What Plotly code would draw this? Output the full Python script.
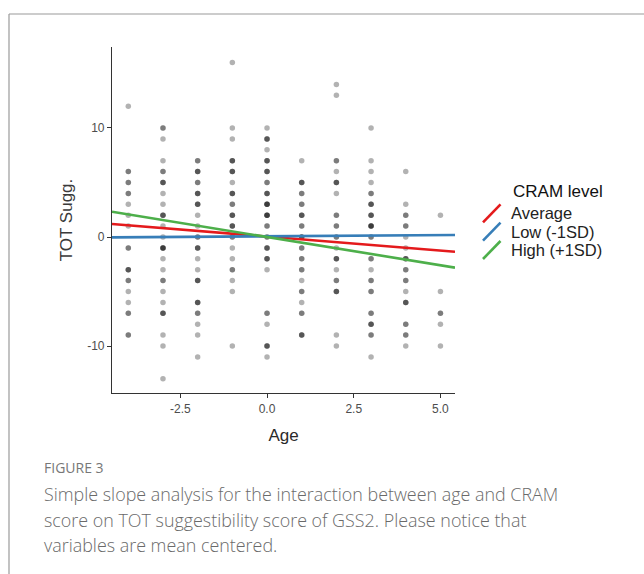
import plotly.graph_objects as go

# ---------------- data ----------------
age_levels = [-4, -3, -2, -1, 0, 1, 2, 3, 4, 5]

tot_scores = [
    [12, 6, 5, 4, 3, 2, 1, -1, -3, -4, -5, -6, -7, -9],
    [10, 9, 7, 6, 5, 4, 3, 2, 1, 0, -1, -2, -3, -4, -5, -6, -7, -9, -10, -13],
    [7, 6, 5, 4, 3, 2, 1, 0, -1, -2, -3, -4, -6, -7, -8, -9, -11],
    [16, 10, 9, 7, 6, 5, 4, 3, 2, 1, 0, -1, -2, -3, -4, -5, -10],
    [10, 9, 8, 7, 6, 5, 4, 3, 2, 1, 0, -1, -2, -3, -7, -8, -10, -11],
    [7, 5, 4, 3, 2, 1, 0, -1, -2, -3, -4, -5, -6, -7, -9],
    [14, 13, 7, 6, 5, 4, 2, 1, 0, -1, -2, -3, -4, -5, -9, -10],
    [10, 7, 6, 5, 4, 3, 2, 1, 0, -2, -3, -4, -5, -7, -8, -9, -11],
    [6, 3, 2, 1, 0, -1, -2, -3, -4, -5, -6, -8, -9, -10],
    [2, -5, -7, -8, -10],
]

overlap_counts = [
    [1, 2, 2, 2, 1, 1, 1, 2, 3, 2, 1, 1, 2, 2],
    [2, 1, 1, 2, 3, 1, 1, 3, 1, 1, 4, 1, 1, 2, 1, 1, 3, 1, 1, 1],
    [2, 3, 2, 3, 3, 1, 1, 2, 3, 1, 1, 3, 3, 2, 1, 1, 1],
    [1, 1, 1, 3, 3, 1, 3, 2, 3, 3, 2, 1, 1, 2, 1, 1, 1],
    [1, 3, 1, 3, 3, 2, 3, 4, 4, 2, 2, 3, 3, 1, 2, 1, 3, 1],
    [1, 3, 2, 2, 3, 2, 3, 2, 2, 2, 1, 2, 1, 2, 3],
    [1, 1, 2, 1, 3, 1, 2, 2, 2, 1, 3, 1, 2, 3, 1, 1],
    [1, 1, 1, 1, 2, 3, 3, 4, 2, 2, 1, 2, 2, 2, 3, 2, 1],
    [1, 1, 2, 2, 1, 1, 3, 2, 2, 1, 3, 2, 2, 1],
    [1, 1, 2, 1, 1],
]

line_age = [-4.47, 5.42]
fit_average = [1.19, -1.35]
fit_low = [-0.03, 0.18]
fit_high = [2.32, -2.81]

series_names = ["Average", "Low (-1SD)", "High (+1SD)"]
series_colors = ["#E41A1C", "#377EB8", "#4DAF4A"]

x_tick_vals = [-2.5, 0, 2.5, 5.0]
x_tick_text = ["-2.5", "0.0", "2.5", "5.0"]
y_tick_vals = [-10, 0, 10]
y_tick_text = ["-10", "0", "10"]

# ---------------- geometry ----------------
W, H = 644, 574
PL, PR, PT, PB = 112, 455, 47, 393


def px(x):
    return (x - PL) / (PR - PL)


def py(y):
    return (PB - y) / (PB - PT)


# expand overlapping points
xs, ys = [], []
for a, vals, ns in zip(age_levels, tot_scores, overlap_counts):
    for v, n in zip(vals, ns):
        for _ in range(n):
            xs.append(a)
            ys.append(v)

fig = go.Figure()
fig.add_trace(go.Scatter(
    x=xs, y=ys, mode="markers",
    marker=dict(size=5.5, color="rgba(0,0,0,0.3)", line=dict(width=0)),
    showlegend=False, hoverinfo="skip",
))

for name, col, fit in zip(series_names, series_colors, [fit_average, fit_low, fit_high]):
    fig.add_trace(go.Scatter(
        x=line_age, y=fit, mode="lines", name=name,
        line=dict(color=col, width=2.6), showlegend=False,
    ))

AX_FONT = "Liberation Sans, Arial, sans-serif"

fig.update_layout(
    width=W, height=H,
    margin=dict(l=PL, r=W - PR, t=PT, b=H - PB),
    paper_bgcolor="white", plot_bgcolor="white",
    font=dict(family=AX_FONT, color="#4d4d4d"),
    xaxis=dict(
        range=[-4.47, 5.42], tickvals=x_tick_vals, ticktext=x_tick_text,
        showgrid=False, zeroline=False, showline=True, linecolor="#333", linewidth=1.2,
        ticks="outside", ticklen=4, tickcolor="#333", tickwidth=1.2,
        tickfont=dict(size=12, color="#4d4d4d"),
        title=dict(text="Age", font=dict(size=17, color="#2a2a2a"), standoff=14),
    ),
    yaxis=dict(
        range=[-14.31, 17.43], tickvals=y_tick_vals, ticktext=y_tick_text,
        showgrid=False, zeroline=False, showline=True, linecolor="#333", linewidth=1.2,
        ticks="outside", ticklen=4, tickcolor="#333", tickwidth=1.2,
        tickfont=dict(size=12, color="#4d4d4d"),
        title=dict(text="TOT Sugg.", font=dict(size=17, color="#3a3a3a"), standoff=10),
    ),
)

# custom legend with diagonal keys
fig.add_annotation(xref="paper", yref="paper", x=px(511), y=py(191.5),
                   text="CRAM level", showarrow=False, xanchor="left", yanchor="middle",
                   font=dict(family=AX_FONT, size=17, color="#111"))
key_y = [213.3, 231.7, 250.0]
for name, col, ky in zip(series_names, series_colors, key_y):
    fig.add_shape(type="line", xref="paper", yref="paper",
                  x0=px(483), y0=py(ky + 9), x1=px(500.5), y1=py(ky - 9),
                  line=dict(color=col, width=2.6))
    fig.add_annotation(xref="paper", yref="paper", x=px(509), y=py(ky),
                       text=name, showarrow=False, xanchor="left", yanchor="middle",
                       font=dict(family=AX_FONT, size=16.5, color="#222"))

# frame of the figure box
fig.add_shape(type="line", xref="paper", yref="paper",
              x0=px(9), y0=py(14), x1=px(W + 5), y1=py(14),
              line=dict(color="#9a9a9a", width=1.2))
fig.add_shape(type="line", xref="paper", yref="paper",
              x0=px(9), y0=py(14), x1=px(9), y1=py(H + 5),
              line=dict(color="#9a9a9a", width=1.2))

# caption
CAP_FONT = "Open Sans, Lato, sans-serif"
fig.add_annotation(xref="paper", yref="paper", x=px(42), y=py(467),
                   text="FIGURE 3", showarrow=False, xanchor="left", yanchor="middle",
                   font=dict(family=CAP_FONT, size=14, color="#777777"))
caption_lines = [
    "Simple slope analysis for the interaction between age and CRAM",
    "score on TOT suggestibility score of GSS2. Please notice that",
    "variables are mean centered.",
]
for i, line in enumerate(caption_lines):
    fig.add_annotation(xref="paper", yref="paper", x=px(42), y=py(494 + 25.5 * i),
                       text=line, showarrow=False, xanchor="left", yanchor="middle",
                       font=dict(family=CAP_FONT, size=17.9, color="#6a6a6a", weight=300))

fig.write_html("out.html")
